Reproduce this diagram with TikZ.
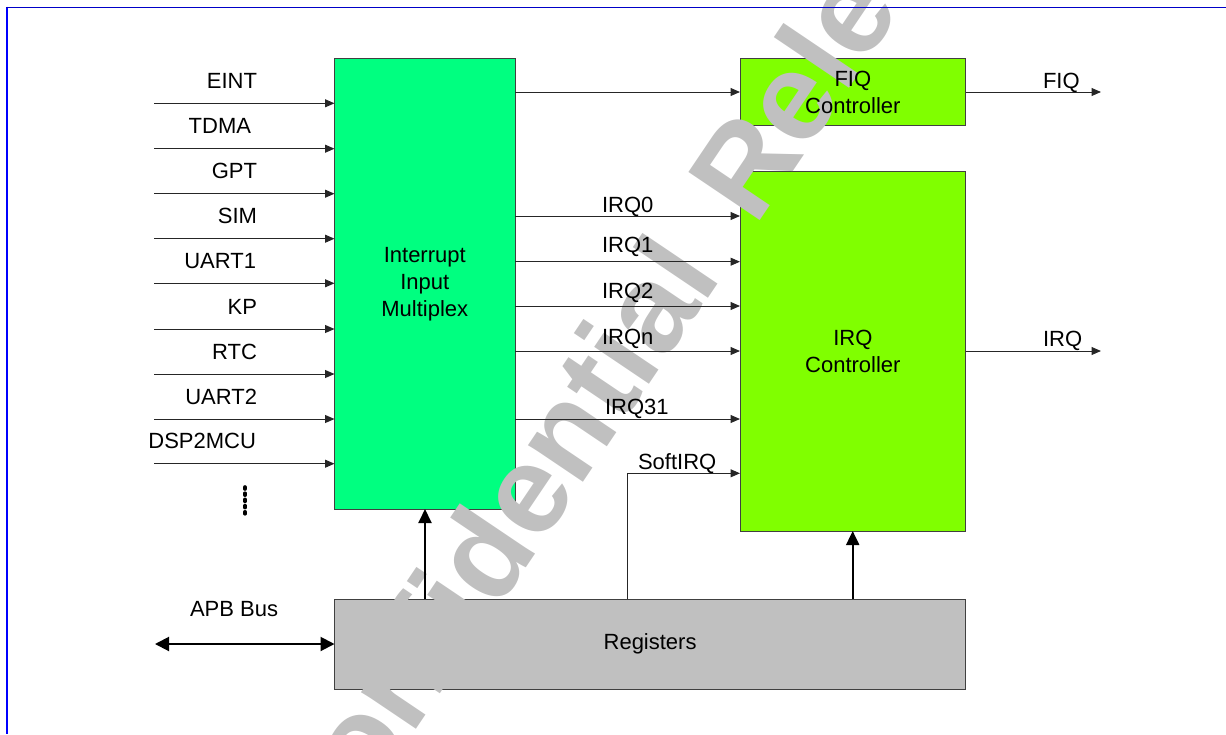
\documentclass[tikz,border=0pt]{standalone}
\usepackage{fontspec}
\setmainfont{Liberation Sans}
\usetikzlibrary{arrows.meta}

\definecolor{muxgreen}{RGB}{0,255,128}
\definecolor{ctrlgreen}{RGB}{128,255,0}
\definecolor{reggray}{RGB}{192,192,192}
\definecolor{markgray}{RGB}{192,192,192}
\definecolor{framecol}{RGB}{0,0,255}
\definecolor{framedark}{RGB}{0,0,200}

\pgfdeclarelayer{boxes}
\pgfdeclarelayer{mark}
\pgfsetlayers{boxes,mark,main}

\tikzset{
  blockbox/.style={draw=black!75, line width=1pt, inner sep=0pt, outer sep=0pt, anchor=north west},
  sig/.style={draw=black!85, line width=1pt, -{Triangle[length=9.5pt,width=8pt]}},
  busarrow/.style={draw=black, line width=2pt, -{Triangle[length=14pt,width=13pt]}},
  busboth/.style={draw=black, line width=2pt, {Triangle[length=14pt,width=14pt]}-{Triangle[length=14pt,width=14pt]}},
  lbl/.style={inner sep=0pt, outer sep=0pt},
  blocktext/.style={inner sep=0pt, outer sep=0pt, align=center},
}

\begin{document}
\begin{tikzpicture}[x=1pt, y=-1pt, font=\fontsize{22}{27}\selectfont]
\useasboundingbox (0,0) rectangle (1226,734);

% frame of the page
\draw[framecol, line width=2pt] (7,6.5) -- (7,734);
\draw[framedark, line width=1pt] (6,7) -- (1226,7);

% block shapes
\begin{pgfonlayer}{boxes}
  \node[blockbox, fill=muxgreen, minimum width=180.5pt, minimum height=450.5pt] (mux) at (334.5,58.5) {};
  \node[blockbox, fill=ctrlgreen, minimum width=225.7pt, minimum height=67pt] (fiq) at (740,58.5) {};
  \node[blockbox, fill=ctrlgreen, minimum width=225.7pt, minimum height=360pt] (irq) at (740,171) {};
  \node[blockbox, fill=reggray, minimum width=631.2pt, minimum height=90pt] (reg) at (334.5,599) {};
\end{pgfonlayer}

% watermark
\begin{pgfonlayer}{mark}
  \clip (0,0) rectangle (1226,734);
  \node[rotate=56, anchor=base west, inner sep=0pt, outer sep=0pt, text=markgray,
        font=\fontsize{125}{125}\selectfont\bfseries] (wm) at (318.7,875)
        {Confidential\hspace{23.75pt} Release};
\end{pgfonlayer}

% block texts
\node[blocktext] (muxtxt) at (mux.center) {Interrupt\\Input\\Multiplex};
\node[blocktext] (fiqtxt) at (fiq.center) {FIQ\\Controller};
\node[blocktext] (irqtxt) at (irq.center) {IRQ\\Controller};
\node[blocktext] (regtxt) at (reg.center) {Registers};

% interrupt sources
\foreach \name/\y/\xe in {EINT/103.3/257, TDMA/148.7/251, GPT/193.7/257, SIM/238.7/257,
                         UART1/283.3/256, KP/329/257, RTC/374/257, UART2/419/257, DSP2MCU/463.7/256}{
  \coordinate (src\name) at (154,\y);
  \draw[sig] (src\name) -- (src\name -| mux.west);
  \node[lbl, anchor=base east] (lab\name) at (\xe,\y-15) {\name};
}
\draw[line width=3.6pt, line cap=round, dash pattern=on 2pt off 4.2pt] (245,487) -- (245,516);

% multiplex to FIQ controller
\draw[sig] (fiq.west -| mux.east) -- (fiq.west);

% multiplex to IRQ controller
\foreach \name/\y/\xl/\dy in {IRQ0/216/602/4, IRQ1/261.7/602/9, IRQ2/306/602/7.5,
                             IRQn/351/602/7, IRQ31/419/605/5}{
  \coordinate (row\name) at (0,\y);
  \draw[sig] (row\name -| mux.east) -- (row\name -| irq.west);
  \node[lbl, anchor=base west] (lab\name) at (\xl,\y-\dy) {\name};
}

% software interrupt from the registers
\coordinate (soft) at (627.5,473.3);
\draw[sig] (soft |- reg.north) -- (soft) -- (soft -| irq.west);
\node[lbl, anchor=base west] (labSoft) at (638,469.5) {SoftIRQ};

% register control paths
\coordinate (ctlmux) at (425,0);
\coordinate (ctlirq) at (852.7,0);
\draw[busarrow] (ctlmux |- reg.north) -- (ctlmux |- mux.south);
\draw[busarrow] (ctlirq |- reg.north) -- (ctlirq |- irq.south);

% APB bus
\coordinate (apb) at (155,644);
\draw[busboth] (apb) -- (apb -| reg.west);
\node[lbl, anchor=base west] (labAPB) at (190,616.5) {APB Bus};

% outputs
\coordinate (fiqout) at (1101,92);
\coordinate (irqout) at (1101,351);
\draw[sig] (fiq.east) -- (fiqout);
\draw[sig] (irq.east) -- (irqout);
\node[lbl, anchor=base west] (labFIQ) at (1043,88.3) {FIQ};
\node[lbl, anchor=base west] (labIRQ) at (1043,346.7) {IRQ};
\end{tikzpicture}
\end{document}
